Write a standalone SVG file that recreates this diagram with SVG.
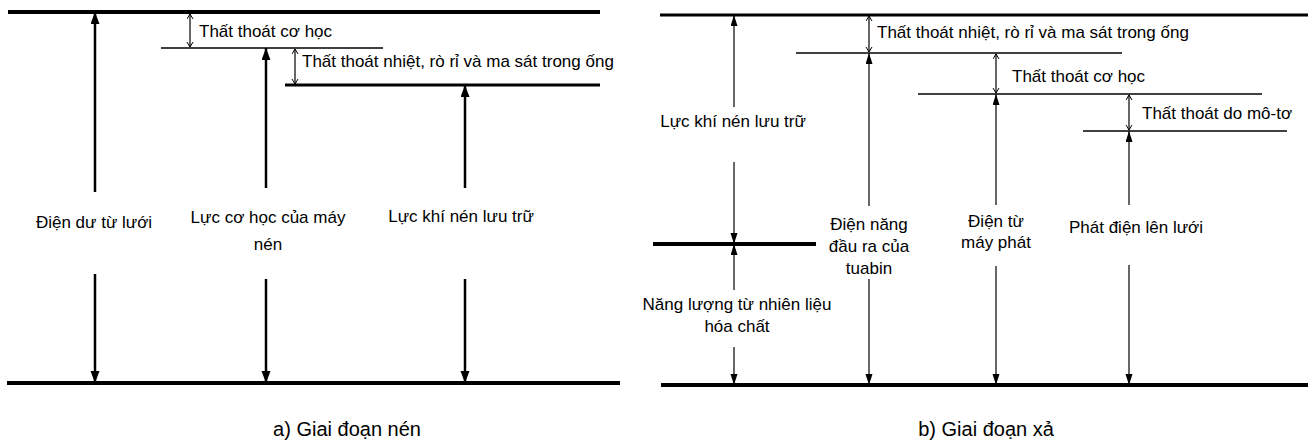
<svg xmlns="http://www.w3.org/2000/svg" width="1314" height="441" viewBox="0 0 1314 441">
  <style>
    text { font-family: "Liberation Sans", Arial, sans-serif; font-size: 17px; fill: #000; }
    .cap { font-size: 20px; }
    .mid { text-anchor: middle; }
    .lvl-thick { stroke: #000; stroke-width: 4; }
    .lvl-mid { stroke: #000; stroke-width: 3; }
    .lvl-thin { stroke: #000; stroke-width: 1.3; }
    .flow-a { stroke: #000; stroke-width: 2.5; fill: none; }
    .flow-b { stroke: #000; stroke-width: 1.2; fill: none; }
    .dim { stroke: #000; stroke-width: 1.2; fill: none; }
    .a-up { marker-start: url(#headA); }
    .a-down { marker-end: url(#headA); }
    .b-up { marker-start: url(#headB); }
    .b-down { marker-end: url(#headB); }
    .dim { marker-start: url(#openHead); marker-end: url(#openHead); }
  </style>
  <defs>
    <marker id="headA" markerUnits="userSpaceOnUse" markerWidth="13" markerHeight="10" refX="12" refY="4.5" orient="auto-start-reverse">
      <path d="M0,0 L12,4.5 L0,9 Z" fill="#000"/>
    </marker>
    <marker id="headB" markerUnits="userSpaceOnUse" markerWidth="12" markerHeight="8" refX="11" refY="3.5" orient="auto-start-reverse">
      <path d="M0,0 L11,3.5 L0,7 Z" fill="#000"/>
    </marker>
    <marker id="openHead" markerUnits="userSpaceOnUse" markerWidth="7" markerHeight="8" refX="5.5" refY="3.5" orient="auto-start-reverse">
      <path d="M0.5,0.5 L5.5,3.5 L0.5,6.5" fill="none" stroke="#000" stroke-width="1"/>
    </marker>
  </defs>

  <!-- a) compression stage: energy levels -->
  <g id="a-levels">
    <line class="lvl-thick" x1="8" y1="12" x2="600" y2="12"/>
    <line class="lvl-thin" x1="161" y1="48" x2="383" y2="48"/>
    <line class="lvl-mid" x1="285" y1="85" x2="600" y2="85"/>
    <line class="lvl-thick" x1="7" y1="383" x2="620" y2="383"/>
  </g>

  <g id="a-connectors">
    <line class="flow-a a-up" x1="95" y1="12" x2="95" y2="192"/>
    <line class="flow-a a-down" x1="95" y1="274" x2="95" y2="383"/>
    <line class="flow-a a-up" x1="266" y1="48" x2="266" y2="188"/>
    <line class="flow-a a-down" x1="266" y1="279" x2="266" y2="383"/>
    <line class="flow-a a-up" x1="465" y1="85" x2="465" y2="188"/>
    <line class="flow-a a-down" x1="465" y1="279" x2="465" y2="383"/>
    <line class="dim" x1="190" y1="14" x2="190" y2="47"/>
    <line class="dim" x1="295" y1="49" x2="295" y2="84"/>
  </g>

  <g id="a-grid-power"><text class="mid" x="94" y="228">Điện dư từ lưới</text></g>
  <g id="a-compressor"><text class="mid" x="268" y="223">Lực cơ học của máy</text><text class="mid" x="268" y="250">nén</text></g>
  <g id="a-stored-air"><text class="mid" x="461" y="222">Lực khí nén lưu trữ</text></g>
  <g id="a-mech-loss"><text x="199" y="37">Thất thoát cơ học</text></g>
  <g id="a-pipe-loss"><text x="302" y="67">Thất thoát nhiệt, rò rỉ và ma sát trong ống</text></g>
  <g id="a-caption"><text class="cap mid" x="347" y="436">a) Giai đoạn nén</text></g>

  <!-- b) expansion stage: energy levels -->
  <g id="b-levels">
    <line class="lvl-mid" x1="660" y1="15" x2="1308" y2="15"/>
    <line class="lvl-thin" x1="796" y1="53" x2="1122" y2="53"/>
    <line class="lvl-thin" x1="918" y1="94" x2="1262" y2="94"/>
    <line class="lvl-thin" x1="1083" y1="131" x2="1287" y2="131"/>
    <line class="lvl-thick" x1="653" y1="244" x2="816" y2="244"/>
    <line class="lvl-thick" x1="661" y1="385" x2="1308" y2="385"/>
  </g>

  <g id="b-connectors">
    <line class="flow-b b-up" x1="734" y1="15" x2="734" y2="107"/>
    <line class="flow-b b-down" x1="734" y1="162" x2="734" y2="244"/>
    <line class="flow-b b-up" x1="734" y1="244" x2="734" y2="290"/>
    <line class="flow-b b-down" x1="734" y1="347" x2="734" y2="385"/>
    <line class="flow-b b-up" x1="869" y1="53" x2="869" y2="206"/>
    <line class="flow-b b-down" x1="869" y1="279" x2="869" y2="385"/>
    <line class="flow-b b-up" x1="996" y1="94" x2="996" y2="205"/>
    <line class="flow-b b-down" x1="996" y1="266" x2="996" y2="385"/>
    <line class="flow-b b-up" x1="1129" y1="131" x2="1129" y2="205"/>
    <line class="flow-b b-down" x1="1129" y1="265" x2="1129" y2="385"/>
    <line class="dim" x1="869" y1="16" x2="869" y2="52"/>
    <line class="dim" x1="996" y1="54" x2="996" y2="93"/>
    <line class="dim" x1="1129" y1="95" x2="1129" y2="130"/>
  </g>

  <g id="b-stored-air"><text class="mid" x="733" y="127">Lực khí nén lưu trữ</text></g>
  <g id="b-fuel"><text class="mid" x="737" y="310">Năng lượng từ nhiên liệu</text><text class="mid" x="737" y="332">hóa chất</text></g>
  <g id="b-turbine"><text class="mid" x="869" y="230">Điện năng</text><text class="mid" x="869" y="252">đầu ra của</text><text class="mid" x="869" y="274">tuabin</text></g>
  <g id="b-generator"><text class="mid" x="996" y="227">Điện từ</text><text class="mid" x="996" y="248">máy phát</text></g>
  <g id="b-grid-out"><text class="mid" x="1136" y="233">Phát điện lên lưới</text></g>
  <g id="b-pipe-loss"><text x="877" y="38">Thất thoát nhiệt, rò rỉ và ma sát trong ống</text></g>
  <g id="b-mech-loss"><text x="1012" y="82">Thất thoát cơ học</text></g>
  <g id="b-motor-loss"><text x="1142" y="119">Thất thoát do mô-tơ</text></g>
  <g id="b-caption"><text class="cap mid" x="986" y="436">b) Giai đoạn xả</text></g>
</svg>
